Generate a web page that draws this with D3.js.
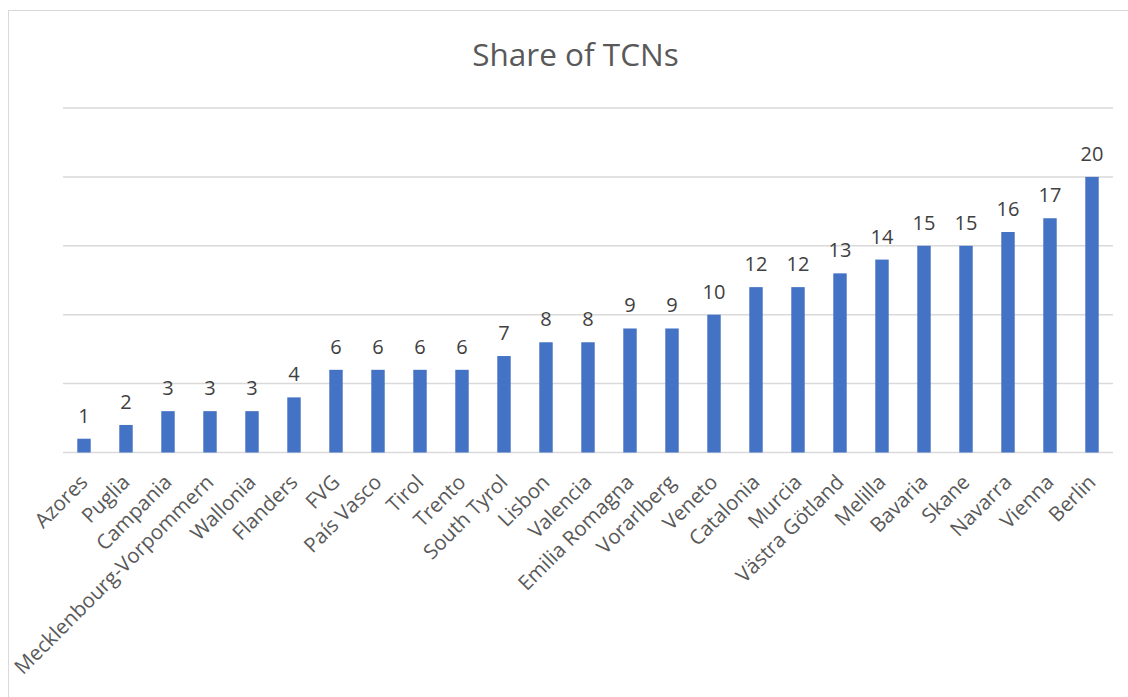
<!DOCTYPE html>
<html>
<head>
<meta charset="utf-8">
<script src="https://cdn.jsdelivr.net/npm/d3@7"></script>
<style>
  html, body { margin: 0; padding: 0; background: #ffffff; }
  svg { display: block; }
</style>
</head>
<body>
<svg id="chart" width="1128" height="697"></svg>
<script>
const categories = ["Azores", "Puglia", "Campania", "Mecklenbourg-Vorpommern", "Wallonia", "Flanders",
  "FVG", "País Vasco", "Tirol", "Trento", "South Tyrol", "Lisbon", "Valencia", "Emilia Romagna",
  "Vorarlberg", "Veneto", "Catalonia", "Murcia", "Västra Götland", "Melilla", "Bavaria", "Skane",
  "Navarra", "Vienna", "Berlin"];
const values = [1, 2, 3, 3, 3, 4, 6, 6, 6, 6, 7, 8, 8, 9, 9, 10, 12, 12, 13, 14, 15, 15, 16, 17, 20];
const yTicks = [0, 5, 10, 15, 20, 25];
const title = "Share of TCNs";

(function () {
const svg = d3.select("#chart");
const font = "'Open Sans', 'Noto Sans', sans-serif";
const textColor = "#595959";

svg.append("rect")
  .attr("x", 8.5).attr("y", 10.5)
  .attr("width", 1130).attr("height", 700)
  .attr("fill", "#ffffff")
  .attr("stroke", "#d9d9d9").attr("stroke-width", 1);

const pLeft = 63, pRight = 1113, pTop = 108, pBottom = 452.5;

const x = d3.scaleBand().domain(categories).range([pLeft, pRight]).paddingInner(0.68).paddingOuter(0.34);
const y = d3.scaleLinear().domain([0, 25]).range([pBottom, pTop]);

svg.append("g").selectAll("line").data(yTicks).join("line")
  .attr("x1", pLeft).attr("x2", pRight)
  .attr("y1", d => y(d)).attr("y2", d => y(d))
  .attr("stroke", "#d9d9d9").attr("stroke-width", 1.5);

svg.append("g").selectAll("rect").data(values).join("rect")
  .attr("x", (d, i) => x(categories[i]))
  .attr("width", x.bandwidth())
  .attr("y", d => y(d))
  .attr("height", d => y(0) - y(d))
  .attr("fill", "#4472c4");

svg.append("g").selectAll("text").data(values).join("text")
  .attr("x", (d, i) => x(categories[i]) + x.bandwidth() / 2)
  .attr("y", d => y(d) - 16)
  .attr("text-anchor", "middle")
  .attr("font-family", font).attr("font-size", 20)
  .attr("fill", "#404040")
  .text(d => d);

const xAxis = d3.axisBottom(x).tickSize(0).tickPadding(0);
const gx = svg.append("g").attr("transform", `translate(0,${pBottom})`).call(xAxis);
gx.select(".domain").remove();
gx.selectAll(".tick text")
  .attr("font-family", font).attr("font-size", 20.5)
  .attr("fill", textColor)
  .attr("text-anchor", "end")
  .attr("dy", null)
  .attr("y", 0)
  .attr("transform", "translate(5,31) rotate(-45)");

svg.append("text")
  .attr("x", 575.5).attr("y", 66)
  .attr("text-anchor", "middle")
  .attr("font-family", font).attr("font-size", 31.5)
  .attr("fill", textColor)
  .text(title);
})();
</script>
</body>
</html>
